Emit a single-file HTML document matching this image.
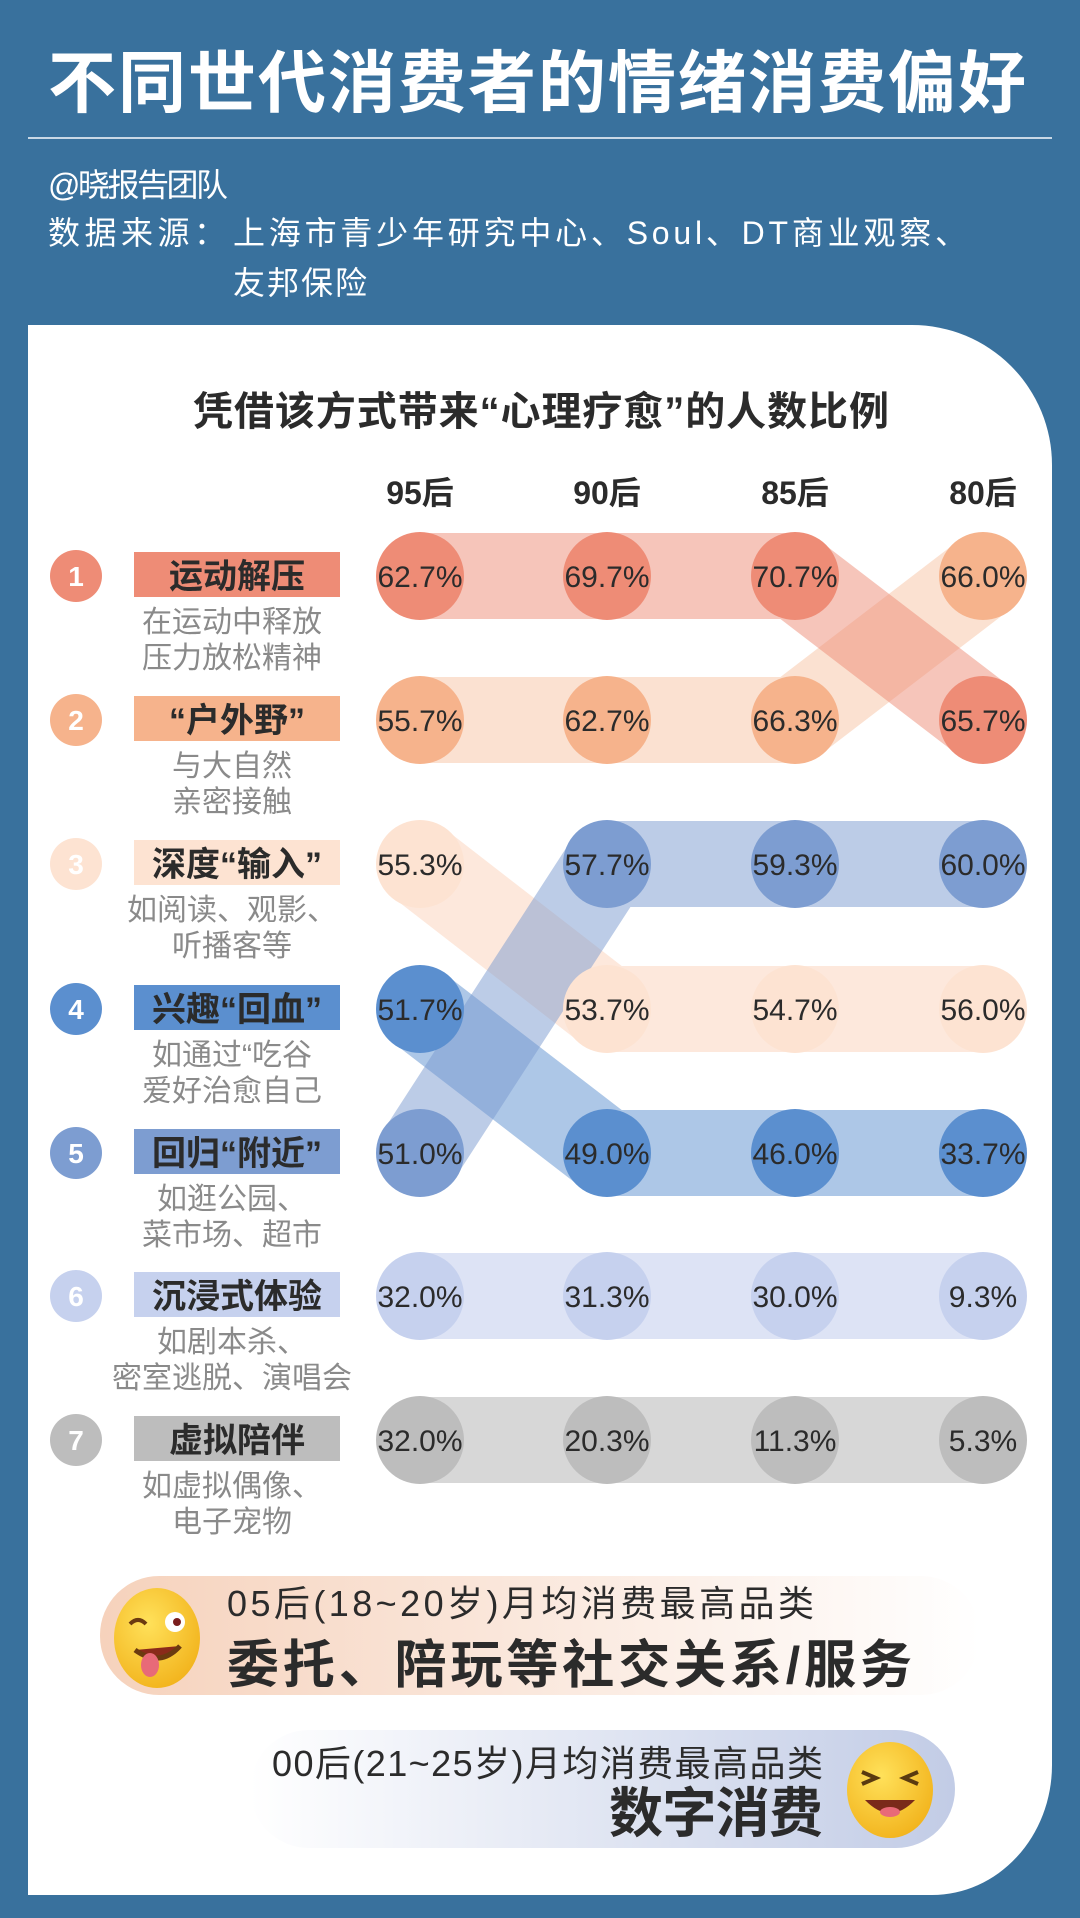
<!DOCTYPE html>
<html><head><meta charset="utf-8"><style>
html,body{margin:0;padding:0}
body{width:1080px;height:1918px;background:#39719d;position:relative;overflow:hidden;font-family:"Liberation Sans","Noto Sans CJK SC",sans-serif}
.t{position:absolute;white-space:nowrap}
#card{position:absolute;left:28px;top:325px;width:1024px;height:1570px;background:#fff;border-radius:0 140px 120px 0/0 140px 130px 0}
</style></head><body>
<div class="t" style="left:48px;top:28px;font-size:68px;font-weight:bold;color:#fff;letter-spacing:2px">不同世代消费者的情绪消费偏好</div>
<div style="position:absolute;left:28px;top:137px;width:1024px;height:2px;background:#c9d8e6"></div>
<svg style="position:absolute;left:0;top:0" width="1080" height="320" font-family="Liberation Sans, Noto Sans CJK SC, sans-serif">
<text x="48" y="196" font-size="32" fill="#fff" textLength="180">@晓报告团队</text>
<text x="48" y="244" font-size="32" fill="#fff" textLength="178">数据来源：</text>
<text x="233" y="244" font-size="32" fill="#fff" textLength="734">上海市青少年研究中心、Soul、DT商业观察、</text>
<text x="233" y="294" font-size="32" fill="#fff" textLength="134">友邦保险</text>
</svg>
<div id="card"></div>
<svg style="position:absolute;left:0;top:0" width="1080" height="1918" font-family="Liberation Sans, Noto Sans CJK SC, sans-serif">
<text x="193" y="425" font-size="40" font-weight="bold" fill="#2b2b2b" textLength="696">凭借该方式带来“心理疗愈”的人数比例</text>
<g font-size="32" font-weight="bold" fill="#2b2b2b" text-anchor="middle">
<text x="420" y="504">95后</text><text x="607" y="504">90后</text><text x="795" y="504">85后</text><text x="983" y="504">80后</text></g>
<g stroke-linecap="round" stroke-linejoin="round" fill="none" stroke-width="86">
<polyline points="420,864 607,1009 983,1009" stroke="#fbd9c4" opacity="0.6"/>
<polyline points="420,1009 607,1153 983,1153" stroke="#5b8fcf" opacity="0.5"/>
<polyline points="420,1153 607,864 983,864" stroke="#7a9ad0" opacity="0.5"/>
<polyline points="420,1296 983,1296" stroke="#c6d1ee" opacity="0.6"/>
<polyline points="420,1440 983,1440" stroke="#bdbdbd" opacity="0.6"/>
<polyline points="420,720 795,720 983,576" stroke="#f6b38c" opacity="0.4"/>
<polyline points="420,576 795,576 983,720" stroke="#ee8c76" opacity="0.5"/>
</g>
<g>
<circle cx="420" cy="576" r="44" fill="#ee8c76"/><circle cx="607" cy="576" r="44" fill="#ee8c76"/><circle cx="795" cy="576" r="44" fill="#ee8c76"/><circle cx="983" cy="576" r="44" fill="#f6b38c"/>
<circle cx="420" cy="720" r="44" fill="#f6b38c"/><circle cx="607" cy="720" r="44" fill="#f6b38c"/><circle cx="795" cy="720" r="44" fill="#f6b38c"/><circle cx="983" cy="720" r="44" fill="#ee8c76"/>
<circle cx="420" cy="864" r="44" fill="#fde3d2"/><circle cx="607" cy="864" r="44" fill="#7d9dd1"/><circle cx="795" cy="864" r="44" fill="#7d9dd1"/><circle cx="983" cy="864" r="44" fill="#7d9dd1"/>
<circle cx="420" cy="1009" r="44" fill="#5b8fcf"/><circle cx="607" cy="1009" r="44" fill="#fde3d2"/><circle cx="795" cy="1009" r="44" fill="#fde3d2"/><circle cx="983" cy="1009" r="44" fill="#fde3d2"/>
<circle cx="420" cy="1153" r="44" fill="#7d9dd1"/><circle cx="607" cy="1153" r="44" fill="#5b8fcf"/><circle cx="795" cy="1153" r="44" fill="#5b8fcf"/><circle cx="983" cy="1153" r="44" fill="#5b8fcf"/>
<circle cx="420" cy="1296" r="44" fill="#c6d1ee"/><circle cx="607" cy="1296" r="44" fill="#c6d1ee"/><circle cx="795" cy="1296" r="44" fill="#c6d1ee"/><circle cx="983" cy="1296" r="44" fill="#c6d1ee"/>
<circle cx="420" cy="1440" r="44" fill="#bdbdbd"/><circle cx="607" cy="1440" r="44" fill="#bdbdbd"/><circle cx="795" cy="1440" r="44" fill="#bdbdbd"/><circle cx="983" cy="1440" r="44" fill="#bdbdbd"/>
</g>
<g font-size="30" fill="#2b2b2b" text-anchor="middle">
<text x="420" y="587">62.7%</text><text x="607" y="587">69.7%</text><text x="795" y="587">70.7%</text><text x="983" y="587">66.0%</text>
<text x="420" y="731">55.7%</text><text x="607" y="731">62.7%</text><text x="795" y="731">66.3%</text><text x="983" y="731">65.7%</text>
<text x="420" y="875">55.3%</text><text x="607" y="875">57.7%</text><text x="795" y="875">59.3%</text><text x="983" y="875">60.0%</text>
<text x="420" y="1020">51.7%</text><text x="607" y="1020">53.7%</text><text x="795" y="1020">54.7%</text><text x="983" y="1020">56.0%</text>
<text x="420" y="1164">51.0%</text><text x="607" y="1164">49.0%</text><text x="795" y="1164">46.0%</text><text x="983" y="1164">33.7%</text>
<text x="420" y="1307">32.0%</text><text x="607" y="1307">31.3%</text><text x="795" y="1307">30.0%</text><text x="983" y="1307">9.3%</text>
<text x="420" y="1451">32.0%</text><text x="607" y="1451">20.3%</text><text x="795" y="1451">11.3%</text><text x="983" y="1451">5.3%</text>
</g>
<g id="labels">
<g transform="translate(0,576)"><circle cx="76" cy="0" r="26" fill="#ee8c76"/><text x="76" y="10" font-size="28" font-weight="bold" fill="#fff" text-anchor="middle">1</text><rect x="134" y="-24" width="206" height="45" fill="#ee8c76"/><text x="237" y="12" font-size="34" font-weight="bold" fill="#2b2b2b" text-anchor="middle">运动解压</text><text x="232" y="56" font-size="30" fill="#8a8a8a" text-anchor="middle">在运动中释放</text><text x="232" y="92" font-size="30" fill="#8a8a8a" text-anchor="middle">压力放松精神</text></g>
<g transform="translate(0,720)"><circle cx="76" cy="0" r="26" fill="#f6b38c"/><text x="76" y="10" font-size="28" font-weight="bold" fill="#fff" text-anchor="middle">2</text><rect x="134" y="-24" width="206" height="45" fill="#f6b38c"/><text x="237" y="12" font-size="34" font-weight="bold" fill="#2b2b2b" text-anchor="middle">“户外野”</text><text x="232" y="56" font-size="30" fill="#8a8a8a" text-anchor="middle">与大自然</text><text x="232" y="92" font-size="30" fill="#8a8a8a" text-anchor="middle">亲密接触</text></g>
<g transform="translate(0,864)"><circle cx="76" cy="0" r="26" fill="#fde3d2"/><text x="76" y="10" font-size="28" font-weight="bold" fill="#fff" text-anchor="middle">3</text><rect x="134" y="-24" width="206" height="45" fill="#fde3d2"/><text x="237" y="12" font-size="34" font-weight="bold" fill="#2b2b2b" text-anchor="middle">深度“输入”</text><text x="232" y="56" font-size="30" fill="#8a8a8a" text-anchor="middle">如阅读、观影、</text><text x="232" y="92" font-size="30" fill="#8a8a8a" text-anchor="middle">听播客等</text></g>
<g transform="translate(0,1009)"><circle cx="76" cy="0" r="26" fill="#5b8fcf"/><text x="76" y="10" font-size="28" font-weight="bold" fill="#fff" text-anchor="middle">4</text><rect x="134" y="-24" width="206" height="45" fill="#5b8fcf"/><text x="237" y="12" font-size="34" font-weight="bold" fill="#2b2b2b" text-anchor="middle">兴趣“回血”</text><text x="232" y="56" font-size="30" fill="#8a8a8a" text-anchor="middle">如通过“吃谷</text><text x="232" y="92" font-size="30" fill="#8a8a8a" text-anchor="middle">爱好治愈自己</text></g>
<g transform="translate(0,1153)"><circle cx="76" cy="0" r="26" fill="#7d9dd1"/><text x="76" y="10" font-size="28" font-weight="bold" fill="#fff" text-anchor="middle">5</text><rect x="134" y="-24" width="206" height="45" fill="#7d9dd1"/><text x="237" y="12" font-size="34" font-weight="bold" fill="#2b2b2b" text-anchor="middle">回归“附近”</text><text x="232" y="56" font-size="30" fill="#8a8a8a" text-anchor="middle">如逛公园、</text><text x="232" y="92" font-size="30" fill="#8a8a8a" text-anchor="middle">菜市场、超市</text></g>
<g transform="translate(0,1296)"><circle cx="76" cy="0" r="26" fill="#c6d1ee"/><text x="76" y="10" font-size="28" font-weight="bold" fill="#fff" text-anchor="middle">6</text><rect x="134" y="-24" width="206" height="45" fill="#c6d1ee"/><text x="237" y="12" font-size="34" font-weight="bold" fill="#2b2b2b" text-anchor="middle">沉浸式体验</text><text x="232" y="56" font-size="30" fill="#8a8a8a" text-anchor="middle">如剧本杀、</text><text x="232" y="92" font-size="30" fill="#8a8a8a" text-anchor="middle">密室逃脱、演唱会</text></g>
<g transform="translate(0,1440)"><circle cx="76" cy="0" r="26" fill="#bdbdbd"/><text x="76" y="10" font-size="28" font-weight="bold" fill="#fff" text-anchor="middle">7</text><rect x="134" y="-24" width="206" height="45" fill="#bdbdbd"/><text x="237" y="12" font-size="34" font-weight="bold" fill="#2b2b2b" text-anchor="middle">虚拟陪伴</text><text x="232" y="56" font-size="30" fill="#8a8a8a" text-anchor="middle">如虚拟偶像、</text><text x="232" y="92" font-size="30" fill="#8a8a8a" text-anchor="middle">电子宠物</text></g>
</g>
<defs>
<linearGradient id="g1" x1="0" x2="1"><stop offset="0" stop-color="#f6d2bc"/><stop offset="1" stop-color="#fff"/></linearGradient>
<linearGradient id="g2" x1="0" x2="1"><stop offset="0" stop-color="#fff"/><stop offset="1" stop-color="#c2cce6"/></linearGradient>
<radialGradient id="ey" cx="0.4" cy="0.35" r="0.7"><stop offset="0" stop-color="#ffe15a"/><stop offset="1" stop-color="#f2b31c"/></radialGradient>
</defs>
<rect x="100" y="1576" width="880" height="119" rx="59" fill="url(#g1)"/>
<rect x="250" y="1730" width="705" height="118" rx="59" fill="url(#g2)"/>
<ellipse cx="157" cy="1638" rx="43" ry="50" fill="url(#ey)"/>
<circle cx="175" cy="1622" r="10" fill="#fff"/><circle cx="177" cy="1622" r="4" fill="#7a1e1e"/>
<path d="M130 1624 q8 -8 16 0" stroke="#6b3a10" stroke-width="4" fill="none"/>
<path d="M135 1650 q25 18 45 -4" stroke="#6b3a10" stroke-width="5" fill="#8a2a1a"/>
<ellipse cx="150" cy="1665" rx="9" ry="12" fill="#e86a78"/>
<text x="227" y="1616" font-size="36" fill="#2b2b2b" textLength="587">05后(18~20岁)月均消费最高品类</text>
<text x="227" y="1683" font-size="52" font-weight="bold" fill="#2b2b2b" textLength="685">委托、陪玩等社交关系/服务</text>
<ellipse cx="890" cy="1790" rx="43" ry="48" fill="url(#ey)"/>
<path d="M862 1772 l14 6 l-14 6 M918 1772 l-14 6 l14 6" stroke="#5a3a10" stroke-width="4" fill="none"/>
<path d="M865 1800 q25 26 50 0 z" fill="#7a2a1a"/><ellipse cx="890" cy="1812" rx="10" ry="5" fill="#e86a78"/>
<text x="272" y="1776" font-size="36" fill="#2b2b2b" textLength="551">00后(21~25岁)月均消费最高品类</text>
<text x="609" y="1832" font-size="54" font-weight="bold" fill="#2b2b2b" textLength="214">数字消费</text>
</svg>
</body></html>
